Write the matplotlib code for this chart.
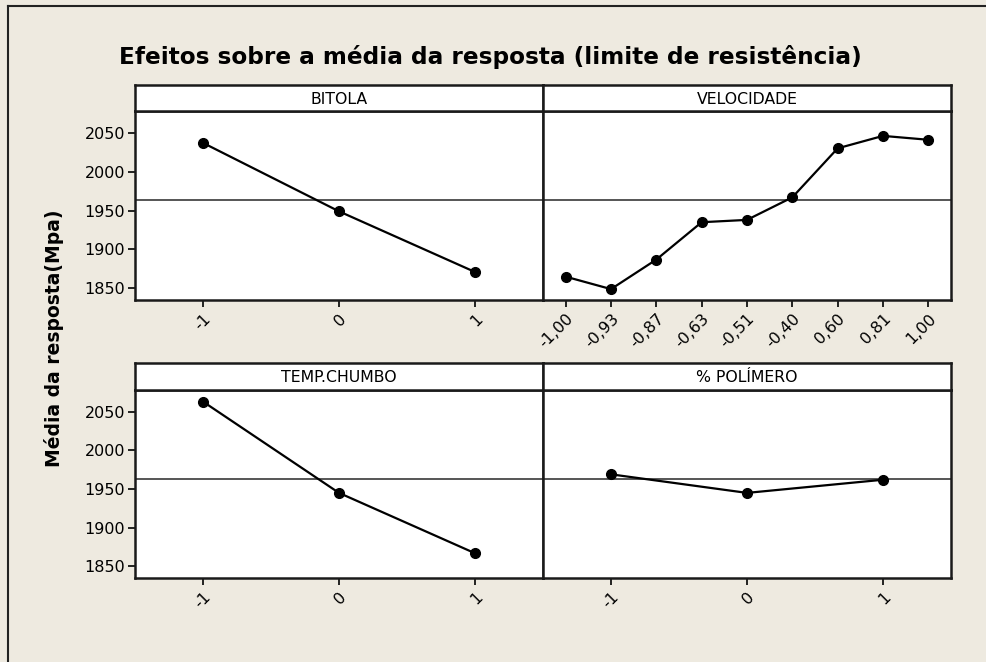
import matplotlib
matplotlib.use("Agg")
import matplotlib.pyplot as plt
from matplotlib.lines import Line2D

# --- data ---
bitola_levels = ["-1", "0", "1"]
bitola_mean = [2037, 1949, 1871]

velocidade_levels = ["-1,00", "-0,93", "-0,87", "-0,63", "-0,51", "-0,40", "0,60", "0,81", "1,00"]
velocidade_mean = [1865, 1849, 1887, 1935, 1938, 1967, 2030, 2046, 2041]

temp_levels = ["-1", "0", "1"]
temp_mean = [2063, 1945, 1867]

polimero_levels = ["-1", "0", "1"]
polimero_mean = [1969, 1945, 1962]

grand_mean = 1963
y_ticks = [1850, 1900, 1950, 2000, 2050]

BG = "#EEEAE0"
FS_TICK = 11.5
FS_STRIP = 11.3

fig = plt.figure(figsize=(9.87, 6.62), dpi=100, facecolor=BG)

# window frame (left and top edge)
fig.add_artist(Line2D([8 / 987, 8 / 987], [0, 1 - 6 / 662], color="#222222", lw=1.5, transform=fig.transFigure))
fig.add_artist(Line2D([8 / 987, 1], [1 - 6 / 662, 1 - 6 / 662], color="#222222", lw=1.5, transform=fig.transFigure))

W, H = 987, 662
col_x = [135, 543]
col_w = 408
rows = [(85, 111, 300), (363, 390, 578)]  # strip top, axes top, axes bottom (pixels)

panels = [
    ("BITOLA", bitola_levels, bitola_mean),
    ("VELOCIDADE", velocidade_levels, velocidade_mean),
    ("TEMP.CHUMBO", temp_levels, temp_mean),
    ("% POLÍMERO", polimero_levels, polimero_mean),
]

for i, (name, levels, means) in enumerate(panels):
    r, c = divmod(i, 2)
    s_top, a_top, a_bot = rows[r]
    x0 = col_x[c] / W
    ax = fig.add_axes([x0, 1 - a_bot / H, col_w / W, (a_bot - a_top) / H])
    st = fig.add_axes([x0, 1 - a_top / H, col_w / W, (a_top - s_top) / H])

    xs = list(range(len(levels)))
    ax.axhline(grand_mean, color="#555555", lw=1.4, zorder=1)
    ax.plot(xs, means, color="black", lw=1.6, marker="o", markersize=7, zorder=3)
    ax.set_xlim(-0.5, len(levels) - 0.5)
    ax.set_ylim(1835, 2078)
    ax.set_xticks(xs)
    ax.set_xticklabels(levels, rotation=45, ha="right", rotation_mode="anchor", fontsize=FS_TICK)
    ax.set_yticks(y_ticks)
    if c == 0:
        ax.set_yticklabels([str(v) for v in y_ticks], fontsize=FS_TICK)
        ax.tick_params(axis="y", length=5, width=1.2, pad=2)
    else:
        ax.tick_params(axis="y", left=False, labelleft=False)
    ax.tick_params(axis="x", length=5, width=1.2, pad=3)
    ax.set_facecolor("white")
    for sp in ax.spines.values():
        sp.set_linewidth(1.8)
        sp.set_color("#1a1a1a")

    st.set_xticks([])
    st.set_yticks([])
    st.set_facecolor("white")
    for sp in st.spines.values():
        sp.set_linewidth(1.8)
        sp.set_color("#1a1a1a")
    st.text(0.5, 0.45, name, ha="center", va="center", fontsize=FS_STRIP, transform=st.transAxes)

fig.text(490 / W, 1 - 57 / H, "Efeitos sobre a média da resposta (limite de resistência)",
         ha="center", va="center", fontsize=16.7, fontweight="bold")
fig.text(54 / W, 1 - 338 / H, "Média da resposta(Mpa)", rotation=90,
         ha="center", va="center", fontsize=13.5, fontweight="bold")

fig.savefig("out.png", dpi=100, facecolor=BG)
